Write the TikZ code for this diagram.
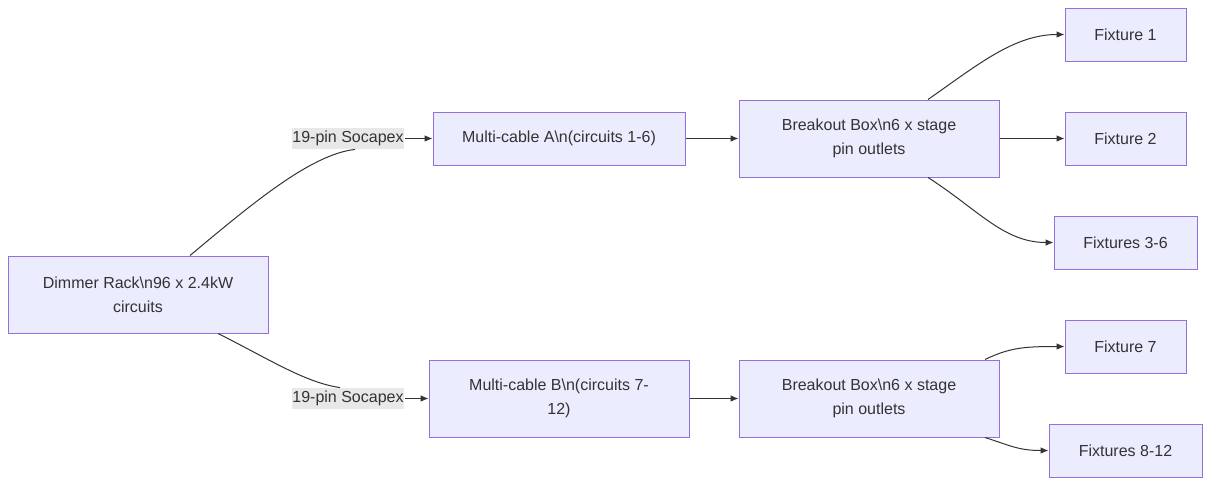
\documentclass[tikz,border=0pt]{standalone}
\usepackage{fontspec}
\setmainfont{Liberation Sans}
\usetikzlibrary{arrows.meta,positioning,calc}
\definecolor{Ink}{HTML}{333333}
\definecolor{BoxFill}{HTML}{ECECFF}
\definecolor{BoxLine}{HTML}{9370DB}
\definecolor{LabelFill}{HTML}{E8E8E8}

\begin{document}
\begin{tikzpicture}[x=0.75pt,y=-0.75pt,>={Latex[length=6pt,width=5pt]},
  box/.style={draw=BoxLine,fill=BoxFill,line width=0.75pt,text=Ink,align=center,
    inner sep=0pt,font=\fontsize{12}{18}\selectfont},
  lbl/.style={fill=LabelFill,text=Ink,inner sep=0.5pt,minimum height=16pt,
    font=\fontsize{12}{14}\selectfont},
  wire/.style={draw=Ink,line width=0.75pt,->}]
\useasboundingbox (0,0) rectangle (1211,486);
% boxes
\node[box,minimum width=195pt,minimum height=57.75pt] (dimmer) at (138,294.5) {Dimmer Rack\textbackslash n96 x 2.4kW\\circuits};
\node[box,minimum width=189pt,minimum height=39.75pt] (cableA) at (559,138.5) {Multi-cable A\textbackslash n(circuits 1-6)};
\node[box,minimum width=195pt,minimum height=57.75pt] (breakA) at (869,138.5) {Breakout Box\textbackslash n6 x stage\\pin outlets};
\node[box,minimum width=90.75pt,minimum height=39.75pt] (fixOne) at (1125.5,34.5) {Fixture 1};
\node[box,minimum width=90.75pt,minimum height=39.75pt] (fixTwo) at (1125.5,138.5) {Fixture 2};
\node[box,minimum width=107.25pt,minimum height=39.75pt] (fixThreeSix) at (1125.5,242.5) {Fixtures 3-6};
\node[box,minimum width=195pt,minimum height=57.75pt] (cableB) at (559,398.5) {Multi-cable B\textbackslash n(circuits 7-\\12)};
\node[box,minimum width=195pt,minimum height=57.75pt] (breakB) at (869,398.5) {Breakout Box\textbackslash n6 x stage\\pin outlets};
\node[box,minimum width=90.75pt,minimum height=39.75pt] (fixSeven) at (1125.5,346.5) {Fixture 7};
\node[box,minimum width=114.75pt,minimum height=39.75pt] (fixEightTwelve) at (1125.5,450.5) {Fixtures 8-12};
% edge labels
\node[lbl] (sockA) at (348,138.5) {19-pin Socapex};
\node[lbl] (sockB) at (348,398.5) {19-pin Socapex};
% connectors
\draw[wire,-] ($(dimmer.north)+(52,0)$) .. controls +(60,-50) and +(-45,5) .. ($(sockA.south)+(7,0)$);
\draw[wire] (sockA.east) -- (cableA.west);
\draw[wire,-] ($(dimmer.south)+(80,0)$) .. controls +(50,25) and +(-35,-5) .. ($(sockB.north)+(-8,0)$);
\draw[wire] (sockB.east) -- (cableB.west);
\draw[wire] (cableA.east) -- (breakA.west);
\draw[wire] (cableB.east) -- (breakB.west);
\draw[wire] ($(breakA.north)+(59,0)$) .. controls +(50,-35) and +(-50,0) .. (fixOne.west);
\draw[wire] (breakA.east) -- (fixTwo.west);
\draw[wire] ($(breakA.south)+(59,0)$) .. controls +(50,32) and +(-50,0) .. (fixThreeSix.west);
\draw[wire] ($(breakB.north)+(116,0)$) .. controls +(25,-12) and +(-40,0) .. (fixSeven.west);
\draw[wire] ($(breakB.south)+(116,0)$) .. controls +(25,8) and +(-30,0) .. (fixEightTwelve.west);
\end{tikzpicture}
\end{document}
